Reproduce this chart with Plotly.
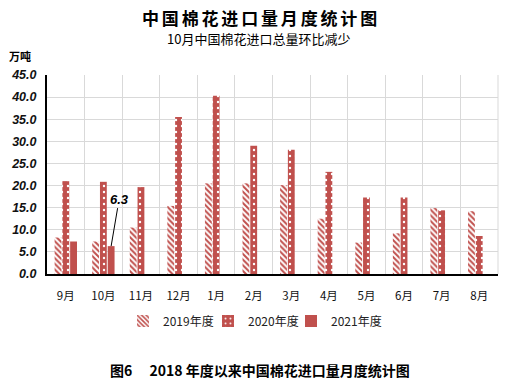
import plotly.graph_objects as go

months = ["9月", "10月", "11月", "12月", "1月", "2月", "3月", "4月", "5月", "6月", "7月", "8月"]
y2019 = [8.25, 7.35, 10.5, 15.4, 20.5, 20.5, 20.1, 12.5, 7.1, 9.2, 14.9, 14.2]
y2020 = [21.0, 20.85, 19.65, 35.5, 40.3, 29.0, 28.1, 23.1, 17.3, 17.3, 14.4, 8.6]
y2021 = [7.35, 6.3, None, None, None, None, None, None, None, None, None, None]
series_names = ["2019年度", "2020年度", "2021年度"]
yticks = [0, 5, 10, 15, 20, 25, 30, 35, 40, 45]

RED = "#C0504D"
CJK = "Noto Sans CJK SC"
BARGAP = 0.38

fig = go.Figure()
fig.add_bar(x=months, y=y2019, name=series_names[0], legend="legend",
            marker=dict(color=RED, line=dict(width=0),
                        pattern=dict(shape="\\", fgcolor=RED, bgcolor="white",
                                     size=4, solidity=0.5, fillmode="replace")))
fig.add_bar(x=months, y=y2020, name=series_names[1], legend="legend2",
            marker=dict(color=RED, line=dict(width=0),
                        pattern=dict(shape=".", fgcolor="white", bgcolor=RED, size=6,
                                     solidity=0.12, fillmode="replace")))
fig.add_bar(x=months, y=y2021, name=series_names[2], legend="legend3",
            marker=dict(color=RED, line=dict(width=0)))

def px(pix):
    return (pix - 47) / 451.0

def py(pix):
    return (274 - pix) / 199.0

leg_common = dict(orientation="h", xanchor="left", y=py(321), yanchor="middle",
                  font=dict(family=CJK, size=12, color="#222"), itemwidth=30,
                  bgcolor="rgba(0,0,0,0)")

fig.update_layout(
    width=514, height=385,
    margin=dict(l=47, r=16, t=75, b=111),
    paper_bgcolor="white", plot_bgcolor="white",
    barmode="group", bargap=BARGAP, bargroupgap=0.12,
    showlegend=True,
    legend=dict(x=px(123), **leg_common),
    legend2=dict(x=px(208), **leg_common),
    legend3=dict(x=px(291), **leg_common),
    xaxis=dict(type="category", tickson="boundaries", showgrid=True, gridcolor="#D9D9D9",
               gridwidth=1, showline=True, linecolor="black", linewidth=2,
               ticks="", ticklabelstandoff=10,
               tickfont=dict(family=CJK, size=11.5, color="#111"), range=[-0.5, 11.5]),
    yaxis=dict(range=[0, 45], tickvals=yticks, tickformat=".1f", showgrid=True,
               gridcolor="#D9D9D9", gridwidth=1, showline=True, linecolor="black",
               linewidth=2, ticks="", zeroline=False, ticklabelstandoff=6,
               tickfont=dict(family="Liberation Sans", size=12.5, color="#111",
                             weight="bold", style="italic")),
)

# right border of plot area
fig.add_shape(type="line", xref="paper", yref="paper", x0=1, x1=1, y0=0, y1=1,
              line=dict(color="#D9D9D9", width=1))

fig.add_annotation(text="中 国 棉 花 进 口 量 月 度 统 计 图".replace(" ", "\u2006"),
                   xref="paper", yref="paper", x=px(259), y=py(18),
                   showarrow=False, xanchor="center", yanchor="middle",
                   font=dict(family=CJK, size=17, color="black", weight="bold"))
fig.add_annotation(text="10月中国棉花进口总量环比减少",
                   xref="paper", yref="paper", x=px(258), y=py(38.5),
                   showarrow=False, xanchor="center", yanchor="middle",
                   font=dict(family=CJK, size=13, color="black"))
fig.add_annotation(text="万吨", xref="paper", yref="paper", x=px(7), y=py(56),
                   showarrow=False, xanchor="left", yanchor="middle",
                   font=dict(family=CJK, size=11, color="black", weight="bold"))
fig.add_annotation(text="图6\u3000 2018 年度以来中国棉花进口量月度统计图",
                   xref="paper", yref="paper", x=px(260), y=py(370),
                   showarrow=False, xanchor="center", yanchor="middle",
                   font=dict(family=CJK, size=14, color="black", weight="bold"))

# label for the 10月 2021 bar
offset = (1 - BARGAP) / 3
fig.add_annotation(text="6.3", x=1 + offset, y=y2021[1], xref="x", yref="y",
                   showarrow=True, arrowhead=0, arrowwidth=1, arrowcolor="black",
                   ax=8, ay=-47,
                   font=dict(family="Liberation Sans", size=13, color="black",
                             weight="bold", style="italic"))

fig.write_html("out.html", config={"displayModeBar": False},
               post_script="document.body.style.margin='0';document.body.style.padding='0';")
